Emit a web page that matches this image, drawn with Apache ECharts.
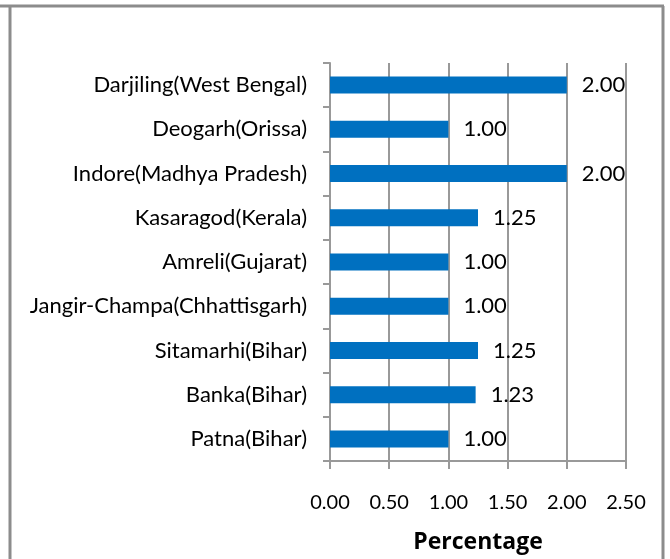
<!DOCTYPE html>
<html>
<head>
<meta charset="utf-8">
<script src="https://cdn.jsdelivr.net/npm/echarts@6/dist/echarts.min.js"></script>
<style>
  html, body { margin: 0; padding: 0; background: #fff; }
  #chart { width: 670px; height: 559px; }
</style>
</head>
<body>
<div id="chart"></div>
<script>
// categories, listed bottom to top (category axis starts at the bottom)
const districts = [
  'Patna(Bihar)',
  'Banka(Bihar)',
  'Sitamarhi(Bihar)',
  'Jangir-Champa(Chhattisgarh)',
  'Amreli(Gujarat)',
  'Kasaragod(Kerala)',
  'Indore(Madhya Pradesh)',
  'Deogarh(Orissa)',
  'Darjiling(West Bengal)'
];
const percentages = [1.00, 1.23, 1.25, 1.00, 1.00, 1.25, 2.00, 1.00, 2.00];
const xTicks = [0, 0.5, 1, 1.5, 2, 2.5];

const FONT = 'Lato, "Open Sans", sans-serif';
const frameColor = '#8c8c8c';

const myChart = echarts.init(document.getElementById('chart'));
const option = {
  animation: false,
  grid: { left: 330, right: 44, top: 63, bottom: 96 },
  xAxis: {
    type: 'value',
    min: xTicks[0],
    max: xTicks[xTicks.length - 1],
    interval: 0.5,
    name: 'Percentage',
    nameLocation: 'middle',
    nameGap: 70,
    nameTextStyle: { fontFamily: '"Open Sans", sans-serif', fontSize: 23, fontWeight: 'bold', color: '#000' },
    axisLine: { show: true, lineStyle: { color: '#999', width: 2 } },
    axisTick: { show: true, length: 8, lineStyle: { color: '#999', width: 2 } },
    axisLabel: {
      margin: 32,
      fontFamily: FONT,
      fontSize: 20,
      color: '#000',
      formatter: v => v.toFixed(2)
    },
    splitLine: { show: true, lineStyle: { color: '#999', width: 2 } }
  },
  yAxis: {
    type: 'category',
    data: districts,
    axisLine: { show: true, lineStyle: { color: '#999', width: 2 } },
    axisTick: { show: true, length: 7, lineStyle: { color: '#999', width: 2 } },
    axisLabel: { margin: 23, fontFamily: FONT, fontSize: 22, color: '#000' },
    splitLine: { show: false }
  },
  series: [{
    type: 'bar',
    data: percentages,
    barWidth: 17,
    itemStyle: { color: '#0070c0' },
    label: {
      show: true,
      position: 'right',
      distance: 15,
      fontFamily: FONT,
      fontSize: 22,
      color: '#000',
      formatter: p => p.value.toFixed(2)
    }
  }],
  graphic: [
    { type: 'line', shape: { x1: 0, y1: 6, x2: 664, y2: 6 }, style: { stroke: frameColor, lineWidth: 3 } },
    { type: 'line', shape: { x1: 10, y1: 6, x2: 10, y2: 559 }, style: { stroke: frameColor, lineWidth: 3 } },
    { type: 'line', shape: { x1: 663, y1: 6, x2: 663, y2: 559 }, style: { stroke: frameColor, lineWidth: 3 } }
  ]
};
myChart.setOption(option);
window.addEventListener('resize', () => {
  myChart.resize();
});
</script>
</body>
</html>
